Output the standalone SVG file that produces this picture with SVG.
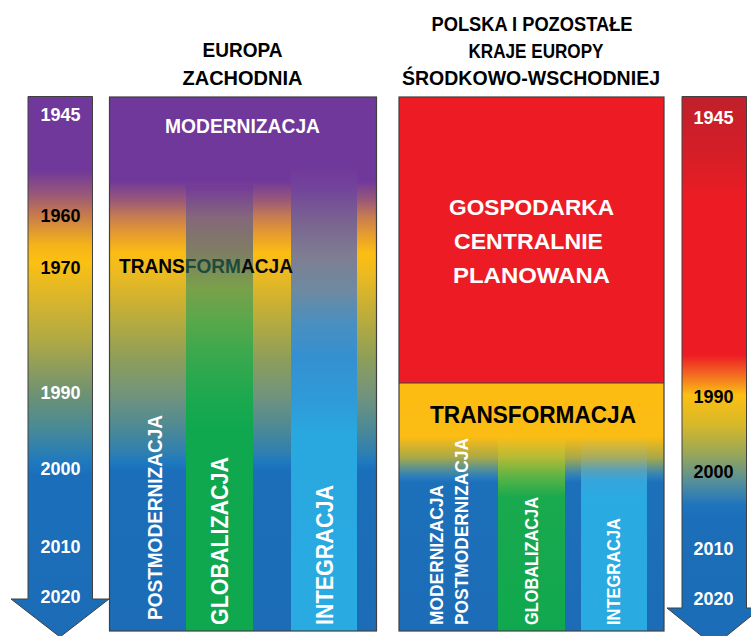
<svg xmlns="http://www.w3.org/2000/svg" width="751" height="636" viewBox="0 0 751 636">
<defs>
<style>
text{font-family:"Liberation Sans",Arial,sans-serif;font-weight:bold}
.w{fill:#fff}
.k{fill:#000}
.yr{font-size:18px;text-anchor:middle}
.ttl{font-size:21px;text-anchor:middle;fill:#000}
.frame{stroke:#404040;stroke-width:1.2}
.astroke{stroke:#404040;stroke-width:1}
</style>
<linearGradient id="gLeftArrow" gradientUnits="userSpaceOnUse" x1="0" y1="96" x2="0" y2="636">
<stop offset="0" stop-color="#70389a"/>
<stop offset="0.137" stop-color="#70389a"/>
<stop offset="0.183" stop-color="#9a5878"/>
<stop offset="0.22" stop-color="#c67a4c"/>
<stop offset="0.276" stop-color="#f5b41a"/>
<stop offset="0.307" stop-color="#fcc012"/>
<stop offset="0.378" stop-color="#d8b52c"/>
<stop offset="0.452" stop-color="#b0a944"/>
<stop offset="0.55" stop-color="#6f9272"/>
<stop offset="0.619" stop-color="#468a98"/>
<stop offset="0.678" stop-color="#1f79bf"/>
<stop offset="0.702" stop-color="#1b6fba"/>
<stop offset="1" stop-color="#1c6cb7"/>
</linearGradient>
<linearGradient id="gRightArrow" gradientUnits="userSpaceOnUse" x1="0" y1="96" x2="0" y2="646">
<stop offset="0" stop-color="#bf202c"/>
<stop offset="0.116" stop-color="#d81e27"/>
<stop offset="0.189" stop-color="#ed1c24"/>
<stop offset="0.471" stop-color="#ed1c24"/>
<stop offset="0.507" stop-color="#f36b21"/>
<stop offset="0.544" stop-color="#fdbf12"/>
<stop offset="0.598" stop-color="#d6b82a"/>
<stop offset="0.653" stop-color="#96a65a"/>
<stop offset="0.707" stop-color="#4d8ca0"/>
<stop offset="0.744" stop-color="#1e75bd"/>
<stop offset="0.771" stop-color="#1b6eb9"/>
<stop offset="1" stop-color="#1c6cb7"/>
</linearGradient>
<linearGradient id="gWestBase" gradientUnits="userSpaceOnUse" x1="0" y1="97" x2="0" y2="631">
<stop offset="0" stop-color="#70389a"/>
<stop offset="0.157" stop-color="#70389a"/>
<stop offset="0.193" stop-color="#9a5878"/>
<stop offset="0.225" stop-color="#c87d50"/>
<stop offset="0.255" stop-color="#e59a30"/>
<stop offset="0.292" stop-color="#fbbd14"/>
<stop offset="0.324" stop-color="#f0bb1e"/>
<stop offset="0.361" stop-color="#dab52a"/>
<stop offset="0.423" stop-color="#b5aa40"/>
<stop offset="0.487" stop-color="#8f9f58"/>
<stop offset="0.554" stop-color="#74947a"/>
<stop offset="0.618" stop-color="#4e8a95"/>
<stop offset="0.667" stop-color="#2f7fb0"/>
<stop offset="0.685" stop-color="#1d79c0"/>
<stop offset="0.7" stop-color="#1b6eb9"/>
<stop offset="1" stop-color="#1c6cb7"/>
</linearGradient>
<linearGradient id="gWestGreen" gradientUnits="userSpaceOnUse" x1="0" y1="185" x2="0" y2="631">
<stop offset="0" stop-color="#74399a"/>
<stop offset="0.074" stop-color="#85687a"/>
<stop offset="0.158" stop-color="#7e8060"/>
<stop offset="0.232" stop-color="#7aa04a"/>
<stop offset="0.306" stop-color="#58a84a"/>
<stop offset="0.383" stop-color="#3aa84e"/>
<stop offset="0.47" stop-color="#1ea84f"/>
<stop offset="0.55" stop-color="#0fa84f"/>
<stop offset="1" stop-color="#0fa84f"/>
</linearGradient>
<linearGradient id="gWestBlue" gradientUnits="userSpaceOnUse" x1="0" y1="167" x2="0" y2="631">
<stop offset="0" stop-color="#70389a"/>
<stop offset="0.05" stop-color="#73459a"/>
<stop offset="0.121" stop-color="#7a6590"/>
<stop offset="0.194" stop-color="#7e7e92"/>
<stop offset="0.265" stop-color="#6e8aa0"/>
<stop offset="0.336" stop-color="#4a8fc0"/>
<stop offset="0.409" stop-color="#3590d0"/>
<stop offset="0.5" stop-color="#2f9ad8"/>
<stop offset="0.58" stop-color="#29a8e0"/>
<stop offset="1" stop-color="#29abe2"/>
</linearGradient>
<linearGradient id="gEastBase" gradientUnits="userSpaceOnUse" x1="0" y1="383" x2="0" y2="631">
<stop offset="0" stop-color="#fdbc12"/>
<stop offset="0.218" stop-color="#fbbc14"/>
<stop offset="0.3" stop-color="#a9a948"/>
<stop offset="0.351" stop-color="#4f8e9a"/>
<stop offset="0.379" stop-color="#2a7dbd"/>
<stop offset="0.403" stop-color="#1c70ba"/>
<stop offset="1" stop-color="#1c6cb7"/>
</linearGradient>
<linearGradient id="gEastGreen" gradientUnits="userSpaceOnUse" x1="0" y1="437" x2="0" y2="631">
<stop offset="0" stop-color="#f9bd18"/>
<stop offset="0.103" stop-color="#b6bb36"/>
<stop offset="0.206" stop-color="#5ab346"/>
<stop offset="0.309" stop-color="#1aa94e"/>
<stop offset="1" stop-color="#10a84f"/>
</linearGradient>
<linearGradient id="gEastBlue" gradientUnits="userSpaceOnUse" x1="0" y1="437" x2="0" y2="631">
<stop offset="0" stop-color="#f9bd18"/>
<stop offset="0.103" stop-color="#a6ac60"/>
<stop offset="0.17" stop-color="#5aa0b8"/>
<stop offset="0.222" stop-color="#35a5dc"/>
<stop offset="0.32" stop-color="#29abe2"/>
<stop offset="1" stop-color="#29abe2"/>
</linearGradient>
</defs>

<g id="title-west">
<text class="ttl" x="242.5" y="57" textLength="80" lengthAdjust="spacingAndGlyphs">EUROPA</text>
<text class="ttl" x="242.5" y="85" textLength="120" lengthAdjust="spacingAndGlyphs">ZACHODNIA</text>
</g>

<g id="title-east">
<text class="ttl" x="532" y="31" textLength="201" lengthAdjust="spacingAndGlyphs">POLSKA I POZOSTAŁE</text>
<text class="ttl" x="536" y="58" textLength="135" lengthAdjust="spacingAndGlyphs">KRAJE EUROPY</text>
<text class="ttl" x="531" y="85" textLength="258" lengthAdjust="spacingAndGlyphs">ŚRODKOWO-WSCHODNIEJ</text>
</g>

<g id="timeline-west">
<path class="astroke" d="M28,96.5 H92.5 V599 H109 L60,637 L11,599 H28 Z" fill="url(#gLeftArrow)"/>
<text class="yr w" x="60.5" y="121">1945</text>
<text class="yr k" x="60.5" y="222">1960</text>
<text class="yr k" x="60.5" y="274">1970</text>
<text class="yr w" x="60.5" y="399">1990</text>
<text class="yr w" x="60.5" y="475">2000</text>
<text class="yr w" x="60.5" y="553">2010</text>
<text class="yr w" x="60.5" y="603">2020</text>
</g>

<g id="panel-west">
<rect x="109.5" y="97" width="267" height="534" fill="url(#gWestBase)"/>
<rect x="186" y="185" width="67" height="446" fill="url(#gWestGreen)"/>
<rect x="291" y="167" width="66" height="464" fill="url(#gWestBlue)"/>
<rect class="frame" x="109.5" y="97" width="267" height="534" fill="none"/>
<text class="w" x="242.5" y="133" font-size="20" text-anchor="middle" textLength="155" lengthAdjust="spacingAndGlyphs">MODERNIZACJA</text>
<text x="119" y="273" font-size="20" textLength="174" lengthAdjust="spacingAndGlyphs"><tspan fill="#000">TRANS</tspan><tspan fill="#1d4a3c">FORM</tspan><tspan fill="#0a0a14">ACJA</tspan></text>
<text class="w" transform="translate(162,620) rotate(-90)" font-size="21" textLength="205" lengthAdjust="spacingAndGlyphs">POSTMODERNIZACJA</text>
<text class="w" transform="translate(228,625) rotate(-90)" font-size="24" textLength="168" lengthAdjust="spacingAndGlyphs">GLOBALIZACJA</text>
<text class="w" transform="translate(333,625) rotate(-90)" font-size="24" textLength="140" lengthAdjust="spacingAndGlyphs">INTEGRACJA</text>
</g>

<g id="panel-east">
<rect x="399" y="97" width="265" height="286" fill="#ed1c24"/>
<rect x="399" y="383" width="265" height="248" fill="url(#gEastBase)"/>
<rect x="498" y="437" width="67" height="194" fill="url(#gEastGreen)"/>
<rect x="581" y="437" width="66" height="194" fill="url(#gEastBlue)"/>
<line class="frame" x1="399" y1="383" x2="664" y2="383"/>
<rect class="frame" x="399" y="97" width="265" height="534" fill="none"/>
<text class="w" x="531.5" y="215" font-size="22.5" text-anchor="middle" textLength="165" lengthAdjust="spacingAndGlyphs">GOSPODARKA</text>
<text class="w" x="528.5" y="249" font-size="22.5" text-anchor="middle" textLength="149" lengthAdjust="spacingAndGlyphs">CENTRALNIE</text>
<text class="w" x="531.5" y="283" font-size="22.5" text-anchor="middle" textLength="157" lengthAdjust="spacingAndGlyphs">PLANOWANA</text>
<text class="k" x="430" y="423" font-size="23" textLength="206" lengthAdjust="spacingAndGlyphs">TRANSFORMACJA</text>
<text class="w" transform="translate(443,625) rotate(-90)" font-size="19" textLength="140" lengthAdjust="spacingAndGlyphs">MODERNIZACJA</text>
<text class="w" transform="translate(468,625) rotate(-90)" font-size="19" textLength="187" lengthAdjust="spacingAndGlyphs">POSTMODERNIZACJA</text>
<text class="w" transform="translate(538,625) rotate(-90)" font-size="18" textLength="128" lengthAdjust="spacingAndGlyphs">GLOBALIZACJA</text>
<text class="w" transform="translate(620,625) rotate(-90)" font-size="18" textLength="107" lengthAdjust="spacingAndGlyphs">INTEGRACJA</text>
</g>

<g id="timeline-east">
<path class="astroke" d="M682,96.5 H746.5 V608 H761 L714,646 L667,608 H682 Z" fill="url(#gRightArrow)"/>
<text class="yr w" x="713.5" y="124">1945</text>
<text class="yr k" x="713.5" y="403">1990</text>
<text class="yr k" x="713.5" y="478">2000</text>
<text class="yr w" x="713.5" y="555">2010</text>
<text class="yr w" x="713.5" y="605">2020</text>
</g>

<g id="connectors"/>
</svg>
